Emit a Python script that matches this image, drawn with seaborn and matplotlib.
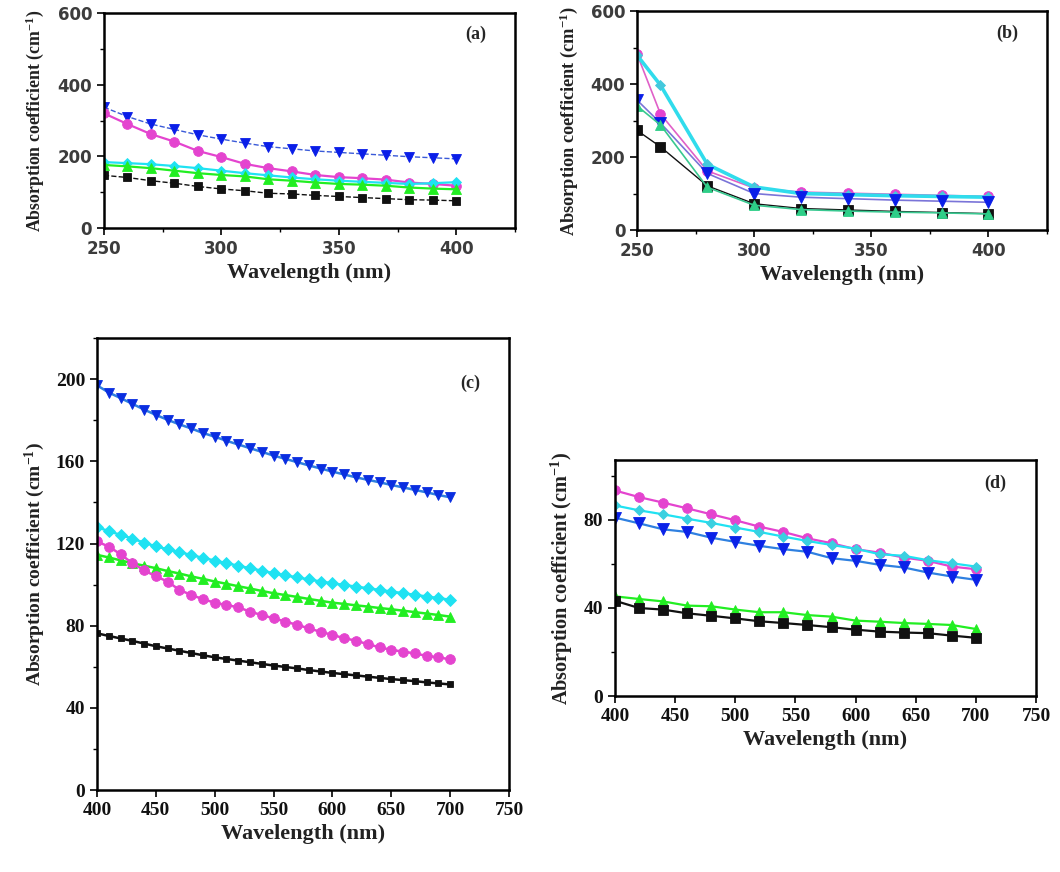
import numpy as np
import seaborn as sns
from matplotlib import pyplot as plt
from matplotlib.ticker import MultipleLocator

# panel (a)
wl_a = [250, 260, 270, 280, 290, 300, 310, 320, 330, 340, 350, 360, 370, 380, 390, 400]
a_blue = [337, 311, 290, 275, 260, 248, 237, 227, 221, 215, 211, 207, 203, 199, 196, 193]
a_magenta = [320, 290, 262, 241, 215, 198, 179, 167, 158, 148, 142, 139, 135, 127, 123, 118]
a_cyan = [184, 181, 178, 173, 167, 160, 153, 147, 141, 136, 132, 129, 126, 123, 125, 128]
a_green = [176, 172, 167, 160, 153, 148, 144, 136, 132, 127, 123, 121, 118, 113, 110, 108]
a_black = [147, 141, 132, 125, 116, 109, 104, 97, 95, 91, 88, 85, 82, 79, 78, 76]

# panel (b)
wl_b = [250, 260, 280, 300, 320, 340, 360, 380, 400]
b_magenta = [482, 318, 162, 115, 104, 101, 98, 95, 92]
b_cyan = [479, 397, 180, 118, 100, 97, 94, 92, 90]
b_blue = [356, 293, 155, 100, 90, 86, 82, 79, 76]
b_green = [340, 288, 117, 68, 56, 52, 49, 47, 44]
b_black = [273, 228, 121, 72, 59, 55, 51, 48, 45]

# panel (c)
wl_c = list(range(400, 701, 10))
c_blue = [197, 193.5, 190.8, 188, 185.2, 182.6, 180.2, 178, 176, 173.8, 172, 170, 168.2,
          166.4, 164.6, 162.8, 161.2, 159.6, 158, 156.5, 155, 153.6, 152.2, 151, 149.8,
          148.5, 147.3, 146.1, 144.9, 143.6, 142.5]
c_cyan = [128, 126, 124.2, 122.4, 120.4, 118.6, 117.2, 115.8, 114.4, 113, 111.7, 110.4,
          109.2, 107.9, 106.8, 105.5, 104.5, 103.5, 102.5, 101.5, 100.6, 99.8, 99, 98.2,
          97.4, 96.6, 95.8, 95, 94.2, 93.4, 92.6]
c_green = [114.5, 113.2, 111.8, 110.4, 109.2, 108, 106.6, 105.4, 104, 102.8, 101.5, 100.4,
           99.2, 98.1, 96.9, 95.8, 94.9, 94, 93, 92.1, 91.2, 90.6, 89.9, 89.3, 88.6, 88,
           87.3, 86.6, 85.9, 85.2, 84.4]
c_magenta = [121, 118.5, 114.8, 110.4, 107, 104, 101.5, 97.4, 95, 92.9, 91.2, 90, 89, 86.8,
             85.2, 83.6, 82, 80.4, 78.7, 77, 75.5, 73.9, 72.7, 71, 69.5, 68.2, 67.4, 66.5,
             65.3, 64.6, 63.6]
c_black = [76.3, 75, 73.8, 72.6, 71.3, 70, 68.9, 67.8, 66.7, 65.6, 64.6, 63.8, 63, 62.2,
           61.4, 60.6, 59.9, 59.2, 58.4, 57.7, 57, 56.4, 55.8, 55.2, 54.6, 54, 53.5, 53,
           52.4, 51.9, 51.4]

# panel (d)
wl_d = list(range(400, 701, 20))
d_magenta = [93.2, 90.2, 87.7, 85.1, 82.4, 79.7, 76.8, 74.4, 71.5, 69.3, 66.6, 65, 62.8, 61.3, 58.7, 57.5]
d_cyan = [86.4, 84.2, 82.4, 80.4, 78.5, 76.4, 74.4, 72.3, 70.3, 68.5, 66.8, 64.3, 63.6, 61.6, 60.2, 58.7]
d_blue = [80.9, 78.3, 75.6, 74.4, 71.8, 69.9, 68.1, 66.6, 65.4, 62.5, 61.3, 59.5, 58.3, 56, 54.2, 52.7]
d_green = [45.2, 44, 42.9, 41, 40.7, 39.2, 38, 38, 36.7, 36, 34.2, 33.7, 33.1, 32.7, 32.2, 30.4]
d_black = [43.2, 39.9, 39.2, 37.5, 36.4, 35.2, 33.9, 33.1, 32.2, 31.2, 30.1, 29.2, 28.8, 28.5, 27.4, 26.4]

BLUE = '#0a1ee8'
BLUE_LINE = '#2f80e0'
MAGENTA = '#e444cf'
CYAN = '#1fe2f2'
GREEN = '#22ee22'
BLACK = '#111111'

sns.set_style("ticks")
plt.rcParams['font.family'] = ['Liberation Serif', 'DejaVu Serif']
plt.rcParams['mathtext.fontset'] = 'custom'
plt.rcParams['mathtext.rm'] = 'Liberation Serif:bold'
plt.rcParams['mathtext.bf'] = 'Liberation Serif:bold'
plt.rcParams['mathtext.default'] = 'bf'

fig = plt.figure(figsize=(10.6, 8.72), dpi=100)
ax_a = fig.add_axes([0.0981, 0.7385, 0.3877, 0.2466])
ax_b = fig.add_axes([0.601, 0.7362, 0.3868, 0.2511])
ax_c = fig.add_axes([0.0915, 0.0940, 0.3887, 0.5183])
ax_d = fig.add_axes([0.5802, 0.2018, 0.3972, 0.2706])


def draw(ax, x, y, color, marker, ms, ls='-', lw=1.3, lc=None, mec=None):
    sns.lineplot(x=x, y=y, ax=ax, color=lc or color, linestyle=ls, linewidth=lw,
                 marker=marker, markersize=ms, markerfacecolor=color,
                 markeredgecolor=mec or color, markeredgewidth=0.6)


# (a)
draw(ax_a, wl_a, a_blue, BLUE, 'v', 7, ls='--', lw=1.0, lc='#3a5ad8')
draw(ax_a, wl_a, a_magenta, MAGENTA, 'o', 7, lw=1.6)
draw(ax_a, wl_a, a_cyan, CYAN, 'D', 5.5, lw=1.6)
draw(ax_a, wl_a, a_green, GREEN, '^', 6.5, lw=1.6)
draw(ax_a, wl_a, a_black, BLACK, 's', 5.5, ls='--', lw=1.0)

# (b)
draw(ax_b, wl_b, b_magenta, MAGENTA, 'o', 7, lw=1.2, lc='#e060c8')
draw(ax_b, wl_b, b_cyan, '#44c8dc', 'D', 5, lw=2.6, lc='#30dcec')
draw(ax_b, wl_b, b_blue, BLUE, 'v', 8, lw=1.2, lc='#7a74d8')
draw(ax_b, wl_b, b_black, BLACK, 's', 7, lw=1.0)
draw(ax_b, wl_b, b_green, '#2ecf88', '^', 7, lw=1.2, lc='#38c890')

# (c)
draw(ax_c, wl_c, c_blue, '#0a2ee0', 'v', 7.5, lw=1.8, lc=BLUE_LINE)
draw(ax_c, wl_c, c_cyan, CYAN, 'D', 6, lw=1.8)
draw(ax_c, wl_c, c_green, GREEN, '^', 7, lw=1.8)
draw(ax_c, wl_c, c_magenta, MAGENTA, 'o', 7, lw=1.8)
draw(ax_c, wl_c, c_black, BLACK, 's', 5, lw=1.8)

# (d)
draw(ax_d, wl_d, d_magenta, MAGENTA, 'o', 7, lw=1.6)
draw(ax_d, wl_d, d_cyan, '#3ad0e0', 'D', 5, lw=1.6, lc=CYAN)
draw(ax_d, wl_d, d_blue, '#0a22e8', 'v', 8, lw=1.6, lc=BLUE_LINE)
draw(ax_d, wl_d, d_green, GREEN, '^', 7, lw=1.6)
draw(ax_d, wl_d, d_black, BLACK, 's', 6.5, lw=1.6)

panels = [
    (ax_a, (250, 425), (0, 600), 50, 25, 200, 100, '(a)', 12.8, 'sans', 8),
    (ax_b, (250, 425), (0, 600), 50, 25, 200, 100, '(b)', 13.2, 'sans', 8),
    (ax_c, (400, 750), (0, 220), 50, None, 40, 20, '(c)', 14.0, 'serif', 6),
    (ax_d, (400, 750), (0, 107), 50, None, 40, 20, '(d)', 14.6, 'serif', 6),
]

for ax, xl, yl, xmaj, xmin, ymaj, ymin, tag, ylab_size, tick_font, pad in panels:
    ax.set_xlim(*xl)
    ax.set_ylim(*yl)
    ax.xaxis.set_major_locator(MultipleLocator(xmaj))
    if xmin:
        ax.xaxis.set_minor_locator(MultipleLocator(xmin))
    ax.yaxis.set_major_locator(MultipleLocator(ymaj))
    ax.yaxis.set_minor_locator(MultipleLocator(ymin))
    for s in ax.spines.values():
        s.set_linewidth(1.8)
        s.set_color('black')
    ax.tick_params(which='major', direction='out', length=5, width=1.2, colors='black')
    ax.tick_params(which='minor', direction='out', length=3, width=1.0, colors='black')
    if tick_font == 'sans':
        for lab in ax.get_xticklabels() + ax.get_yticklabels():
            lab.set_family('DejaVu Sans')
            lab.set_fontweight('bold')
            lab.set_fontsize(12)
            lab.set_color('#3c3c3c')
    ax.set_xlabel('Wavelength (nm)', fontsize=16, fontweight='bold', color='#222222', labelpad=4)
    ax.set_ylabel(r'Absorption coefficient (cm$^{-1}$)', fontsize=ylab_size,
                  fontweight='bold', color='#222222', labelpad=pad)
    ax.text(0.93, 0.90, tag, transform=ax.transAxes, ha='right', va='center',
            fontsize=13, fontweight='bold')

ax_c.set_yticks([0, 40, 80, 120, 160, 200])
ax_d.set_yticks([0, 40, 80])
for ax in (ax_c, ax_d):
    for lab in ax.get_yticklabels() + ax.get_xticklabels():
        lab.set_fontweight('bold')
        lab.set_fontsize(14)
        lab.set_color('#111111')

fig.savefig('out.png', dpi=100)
